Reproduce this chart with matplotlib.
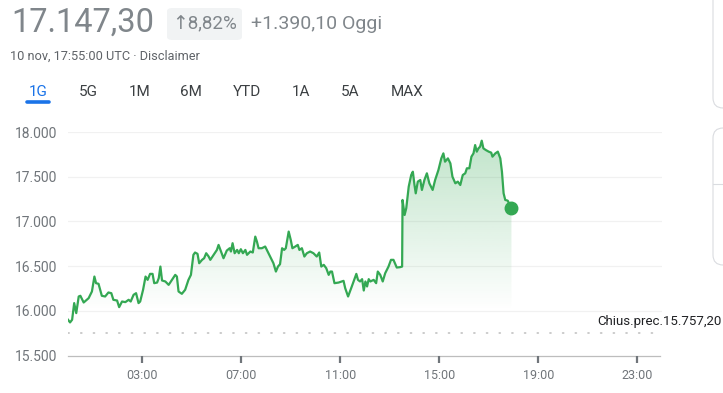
import matplotlib
matplotlib.use("Agg")
import matplotlib.pyplot as plt
import numpy as np
from matplotlib.patches import FancyBboxPatch, Polygon
from matplotlib.lines import Line2D

plt.rcParams['font.family'] = ['Roboto', 'DejaVu Sans']

# ---------------- data ----------------
times = ["00:00","00:05","00:10","00:15","00:20","00:26","00:30","00:38","00:50","00:58",
         "01:04","01:08","01:14","01:22","01:30","01:38","01:45","01:50","01:59","02:04",
         "02:11","02:19","02:27","02:32","02:39","02:45","02:51","02:55","03:02","03:08",
         "03:13","03:19","03:25","03:29","03:36","03:40","03:44","03:48","03:56","04:04",
         "04:12","04:20","04:24","04:28","04:36","04:44","04:52","04:58","05:04","05:08",
         "05:14","05:18","05:25","05:30","05:35","05:41","05:45","05:53","06:01","06:05",
         "06:11","06:17","06:25","06:32","06:35","06:39","06:44","06:50","06:54","06:59",
         "07:04","07:10","07:14","07:22","07:28","07:34","07:38","07:42","07:50","07:58",
         "08:04","08:10","08:18","08:24","08:29","08:34","08:39","08:44","08:48","08:55",
         "09:00","09:04","09:11","09:17","09:21","09:27","09:33","09:39","09:47","09:55",
         "10:03","10:09","10:14","10:20","10:26","10:32","10:36","10:40","10:46","10:56",
         "11:08","11:12","11:19","11:28","11:39","11:43","11:48","11:53","11:57","12:01",
         "12:05","12:09","12:13","12:21","12:27","12:31","12:37","12:43","12:49","12:57",
         "13:03","13:09","13:17","13:25","13:30","13:31","13:36","13:40","13:46","13:52",
         "13:56","14:00","14:03","14:08","14:14","14:18","14:24","14:30","14:36","14:44",
         "14:50","14:58","15:05","15:10","15:14","15:21","15:27","15:32","15:39","15:45",
         "15:51","15:57","16:03","16:07","16:13","16:18","16:23","16:27","16:31","16:35",
         "16:39","16:43","16:47","16:53","17:00","17:06","17:09","17:16","17:22","17:28",
         "17:32","17:36","17:40","17:46","17:55"]
prices = [15900,15870,15900,16086,15974,16160,16168,16093,16141,16216,
          16383,16309,16302,16168,16160,16205,16197,16123,16115,16041,
          16104,16097,16123,16104,16179,16197,16086,16104,16235,16383,
          16346,16413,16413,16309,16316,16365,16495,16339,16328,16290,
          16346,16402,16383,16216,16190,16235,16346,16402,16626,16652,
          16637,16532,16570,16588,16644,16607,16570,16626,16681,16737,
          16663,16588,16674,16700,16663,16756,16644,16681,16644,16689,
          16644,16681,16626,16663,16652,16830,16774,16700,16700,16719,
          16663,16607,16532,16439,16495,16521,16700,16681,16700,16886,
          16793,16700,16719,16737,16681,16700,16607,16644,16663,16644,
          16607,16652,16495,16514,16477,16402,16439,16439,16309,16316,
          16335,16253,16160,16272,16413,16346,16328,16354,16227,16328,
          16272,16354,16328,16346,16309,16439,16402,16328,16421,16495,
          16570,16570,16484,16488,16495,17240,17072,17147,17389,17519,
          17556,17407,17314,17445,17463,17352,17463,17538,17426,17352,
          17463,17575,17705,17761,17668,17705,17649,17500,17426,17445,
          17407,17519,17538,17594,17594,17724,17761,17854,17780,17817,
          17836,17903,17817,17798,17780,17769,17724,17761,17780,17705,
          17556,17314,17240,17232,17147.30]
prev_close = 15757.20
y_ticks = [15500, 16000, 16500, 17000, 17500, 18000]
y_tick_labels = ["15.500", "16.000", "16.500", "17.000", "17.500", "18.000"]
x_tick_hours = [3, 7, 11, 15, 19, 23]
x_tick_labels = ["03:00", "07:00", "11:00", "15:00", "19:00", "23:00"]
price_text = "17.147,30"
change_pct = "↑8,82%"
change_abs = "+1.390,10 Oggi"
subtitle = "10 nov, 17:55:00 UTC · Disclaimer"
tabs = ["1G", "5G", "1M", "6M", "YTD", "1A", "5A", "MAX"]
prev_label = "Chius.prec.15.757,20"

hours = np.array([int(t[:2]) + int(t[3:]) / 60 for t in times])
vals = np.array(prices, dtype=float)

GREEN = "#34a853"
W, H = 723, 393
fig = plt.figure(figsize=(W / 100, H / 100), dpi=100)
fig.patch.set_facecolor("white")

def fx(px):
    return px / W

def fy(py):
    return 1 - py / H

# axes: x 0..24 h maps to px 68..662, y 15500..18000 maps to px 355.5..132
ax = fig.add_axes([fx(68), fy(355.5), fx(662) - fx(68), fy(132) - fy(355.5)])
ax.set_xlim(0, 24)
ax.set_ylim(15500, 18000)
for s in ax.spines.values():
    s.set_visible(False)
ax.patch.set_alpha(0)

# gridlines
for v in y_ticks[1:]:
    ax.axhline(v, color="#f1f1f1", lw=0.9, zorder=0)
ax.plot([0, 23.9], [15500, 15500], color="#bdbdbd", lw=0.9, zorder=1, clip_on=False)

# gradient fill
base = 16000
top = 18000
grad = np.linspace(0.32, 0.0, 256).reshape(-1, 1)
rgba = np.zeros((256, 1, 4))
rgba[..., 0] = 0x34 / 255
rgba[..., 1] = 0xa8 / 255
rgba[..., 2] = 0x53 / 255
rgba[..., 3] = grad
im = ax.imshow(rgba, extent=[0, hours[-1], base, top], aspect="auto",
               origin="upper", zorder=1, interpolation="bilinear")
poly_pts = np.vstack([np.column_stack([hours, vals]),
                      [[hours[-1], base], [hours[0], base]]])
clip = Polygon(poly_pts, closed=True, transform=ax.transData, facecolor="none", edgecolor="none")
ax.add_patch(clip)
im.set_clip_path(clip)
ax.set_xlim(0, 24)
ax.set_ylim(15500, 18000)

# price line
ax.plot(hours, vals, color=GREEN, lw=1.6, zorder=3, solid_joinstyle="round")
ax.plot([hours[-1]], [vals[-1]], "o", color=GREEN, ms=9, zorder=4)

# previous close dotted line
ax.plot([0, 24], [prev_close, prev_close], color="#bdbdbd", lw=1.1,
        linestyle=(0, (0.8, 7.5)), zorder=2, dash_capstyle="round")
fig.text(fx(722), fy(321), prev_label, ha="right", va="center",
         fontsize=9.5, color="#202124")

# ticks
ax.set_yticks(y_ticks)
ax.set_yticklabels(y_tick_labels)
ax.set_xticks(x_tick_hours)
ax.set_xticklabels(x_tick_labels)
ax.tick_params(axis="y", length=0, pad=8, labelsize=10, labelcolor="#70757a")
ax.tick_params(axis="x", length=5, width=1.6, color="#70757a", pad=5,
               labelsize=9, labelcolor="#70757a", direction="out")

# ---------------- header ----------------
fig.text(fx(11), fy(23), price_text, fontsize=23.5, color="#80868b",
         ha="left", va="center")
box = FancyBboxPatch((fx(167), fy(40)), fx(242) - fx(167), fy(8) - fy(40),
                     boxstyle="round,pad=0,rounding_size=0.008",
                     transform=fig.transFigure, facecolor="#f1f3f4", edgecolor="none")
fig.add_artist(box)
fig.text(fx(205), fy(24), change_pct, fontsize=13.5, color="#80868b",
         ha="center", va="center")
fig.text(fx(251), fy(24), change_abs, fontsize=14, color="#80868b",
         ha="left", va="center")
fig.text(fx(10), fy(56), subtitle, fontsize=9.2, color="#5f6368",
         ha="left", va="center")

tab_x = [38, 88, 140, 191, 247, 301, 350, 407]
for i, (t, x) in enumerate(zip(tabs, tab_x)):
    fig.text(fx(x), fy(92), t, fontsize=11, ha="center", va="center",
             color="#1a73e8" if i == 0 else "#3c4043")
fig.add_artist(Line2D([fx(27), fx(49)], [fy(101.5), fy(101.5)], color="#1a73e8",
                      lw=2.6, solid_capstyle="round", transform=fig.transFigure))

# right-side cards (partially visible)
card1 = FancyBboxPatch((fx(713), fy(108)), fx(760) - fx(713), fy(-20) - fy(108),
                       boxstyle="round,pad=0,rounding_size=0.014",
                       transform=fig.transFigure, facecolor="white",
                       edgecolor="#dadce0", lw=0.8, mutation_aspect=W / H)
fig.add_artist(card1)
card2 = FancyBboxPatch((fx(713), fy(265)), fx(760) - fx(713), fy(128) - fy(265),
                       boxstyle="round,pad=0,rounding_size=0.014",
                       transform=fig.transFigure, facecolor="white",
                       edgecolor="#dadce0", lw=0.8, mutation_aspect=W / H)
fig.add_artist(card2)
fig.add_artist(Line2D([fx(713), fx(723)], [fy(184), fy(184)], color="#dadce0",
                      lw=0.8, transform=fig.transFigure))

fig.savefig("out.png", dpi=100, facecolor="white")
